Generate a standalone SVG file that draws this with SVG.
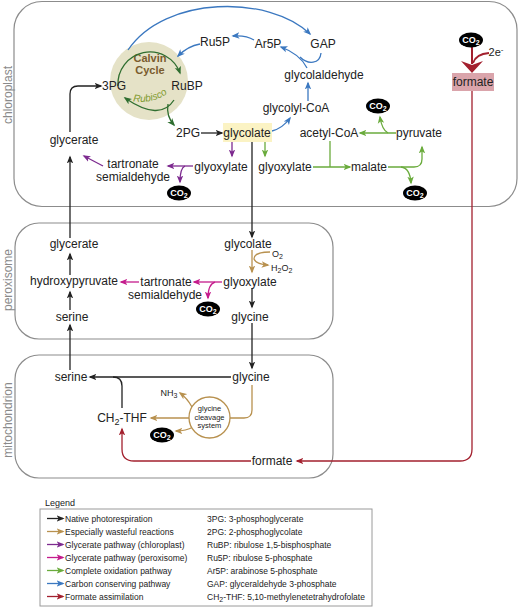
<svg xmlns="http://www.w3.org/2000/svg" width="520" height="607" viewBox="0 0 520 607">
<style>
.t{font-family:"Liberation Sans",Arial,sans-serif;font-size:12px;fill:#222;text-anchor:middle}
.s{font-size:9px}
.cmp{font-family:"Liberation Sans",Arial,sans-serif;font-size:12px;fill:#8a8a8a;text-anchor:middle}
.box{fill:none;stroke:#8c8c8c;stroke-width:1.2}
.a{fill:none;stroke-width:1.3}
.k{stroke:#222}.tn{stroke:#b8914f}.p{stroke:#7d2a8f}.m{stroke:#c41b8c}.g{stroke:#6aab3c}.b{stroke:#3b78c0}.r{stroke:#a3202e}.dg{stroke:#2f6e2f}
.co{fill:#000}
.cot{font-family:"Liberation Sans",Arial,sans-serif;font-size:9px;font-weight:bold;fill:#fff;text-anchor:middle}
.lg{font-family:"Liberation Sans",Arial,sans-serif;font-size:8.5px;fill:#222}
</style>
<defs>
<marker id="mk" viewBox="0 0 10 10" refX="8" refY="5" markerWidth="8" markerHeight="8" markerUnits="userSpaceOnUse" orient="auto"><path d="M0,1 L10,5 L0,9 L2.5,5 z" fill="#222"/></marker>
<marker id="mt" viewBox="0 0 10 10" refX="8" refY="5" markerWidth="8" markerHeight="8" markerUnits="userSpaceOnUse" orient="auto"><path d="M0,1 L10,5 L0,9 L2.5,5 z" fill="#b8914f"/></marker>
<marker id="mp" viewBox="0 0 10 10" refX="8" refY="5" markerWidth="8" markerHeight="8" markerUnits="userSpaceOnUse" orient="auto"><path d="M0,1 L10,5 L0,9 L2.5,5 z" fill="#7d2a8f"/></marker>
<marker id="mm" viewBox="0 0 10 10" refX="8" refY="5" markerWidth="8" markerHeight="8" markerUnits="userSpaceOnUse" orient="auto"><path d="M0,1 L10,5 L0,9 L2.5,5 z" fill="#c41b8c"/></marker>
<marker id="mg" viewBox="0 0 10 10" refX="8" refY="5" markerWidth="8" markerHeight="8" markerUnits="userSpaceOnUse" orient="auto"><path d="M0,1 L10,5 L0,9 L2.5,5 z" fill="#6aab3c"/></marker>
<marker id="mb" viewBox="0 0 10 10" refX="8" refY="5" markerWidth="8" markerHeight="8" markerUnits="userSpaceOnUse" orient="auto"><path d="M0,1 L10,5 L0,9 L2.5,5 z" fill="#3b78c0"/></marker>
<marker id="mr" viewBox="0 0 10 10" refX="8" refY="5" markerWidth="8" markerHeight="8" markerUnits="userSpaceOnUse" orient="auto"><path d="M0,1 L10,5 L0,9 L2.5,5 z" fill="#a3202e"/></marker>
<marker id="md" viewBox="0 0 10 10" refX="8" refY="5" markerWidth="8" markerHeight="8" markerUnits="userSpaceOnUse" orient="auto"><path d="M0,1 L10,5 L0,9 L2.5,5 z" fill="#2f6e2f"/></marker>
<path id="rubpath" d="M133,101 Q154,105 172,90"/>
</defs>
<rect width="520" height="607" fill="#fff"/>

<g id="compartments">
<rect class="box" x="14" y="1.5" width="503" height="205" rx="28"/>
<rect class="box" x="15" y="223" width="318" height="116" rx="24"/>
<rect class="box" x="15" y="355" width="318" height="123" rx="24"/>
<text class="cmp" transform="translate(12,95) rotate(-90)">chloroplast</text>
<text class="cmp" transform="translate(12,280) rotate(-90)">peroxisome</text>
<text class="cmp" transform="translate(12,420) rotate(-90)">mitochondrion</text>
</g>

<g id="calvin">
<circle cx="149" cy="81" r="39" fill="#e5e2c7"/>
<text class="t" x="150" y="62" style="font-weight:bold;font-size:11px;fill:#7a5c2e">Calvin</text>
<text class="t" x="150" y="74" style="font-weight:bold;font-size:11px;fill:#7a5c2e">Cycle</text>
<text style="font-family:'Liberation Sans',Arial,sans-serif;font-style:italic;font-size:10px;fill:#7f9a2e"><textPath href="#rubpath">Rubisco</textPath></text>
</g>

<g id="connectors">
<!-- black native -->
<path class="a k" d="M70,238 V157" marker-end="url(#mk)"/>
<path class="a k" d="M70,132 V94 Q70,86 78,86 H101" marker-end="url(#mk)"/>
<path class="a k" d="M201,133 H222" marker-end="url(#mk)"/>
<path class="a k" d="M252,142 V237" marker-end="url(#mk)"/>
<path class="a k" d="M70,370 V325" marker-end="url(#mk)"/>
<path class="a k" d="M70,310 V292" marker-end="url(#mk)"/>
<path class="a k" d="M70,275 V254" marker-end="url(#mk)"/>
<path class="a k" d="M252,288 V307" marker-end="url(#mk)"/>
<path class="a k" d="M252,323 V368" marker-end="url(#mk)"/>
<path class="a k" d="M231,377 H90" marker-end="url(#mk)"/>
<path class="a k" d="M122,408 V386 Q122,377 113,377"/>
<!-- dark green calvin -->
<path class="a dg" d="M118,86 A32,32 0 0 1 180,73" marker-end="url(#md)"/>
<path class="a dg" d="M174,100 Q160,122 125,98" marker-end="url(#md)"/>
<path class="a dg" d="M168,104 Q166,116 174,125" marker-end="url(#md)"/>
<!-- blue -->
<path class="a b" d="M128,50 C165,-5 270,-5 310,34" marker-end="url(#mb)"/>
<path class="a b" d="M254,40 Q246,35 233,36" marker-end="url(#mb)"/>
<path class="a b" d="M200,44 Q188,46 178,56" marker-end="url(#mb)"/>
<path class="a b" d="M307,68 Q300,54 281,47" marker-end="url(#mb)"/>
<path class="a b" d="M321,53 C320,64 308,65 300,57"/>
<path class="a b" d="M308,101 V83" marker-end="url(#mb)"/>
<path class="a b" d="M272,131 Q283,128 290,118" marker-end="url(#mb)"/>
<!-- purple -->
<path class="a p" d="M232,142 V156" marker-end="url(#mp)"/>
<path class="a p" d="M193,166 H168" marker-end="url(#mp)"/>
<path class="a p" d="M185,166 Q180,168 180,182" marker-end="url(#mp)"/>
<path class="a p" d="M103,166 L84,156" marker-end="url(#mp)"/>
<!-- green -->
<path class="a g" d="M265,142 V156" marker-end="url(#mg)"/>
<path class="a g" d="M313,167 H350" marker-end="url(#mg)"/>
<path class="a g" d="M330,141 V167"/>
<path class="a g" d="M396,133 H360" marker-end="url(#mg)"/>
<path class="a g" d="M388,133 Q382,130 380,117" marker-end="url(#mg)"/>
<path class="a g" d="M388,167 H414 Q422,167 422,159 V147" marker-end="url(#mg)"/>
<path class="a g" d="M401,167 Q410,168 411,183" marker-end="url(#mg)"/>
<!-- magenta -->
<path class="a m" d="M222,282 H194" marker-end="url(#mm)"/>
<path class="a m" d="M215,282 Q208,284 208,298" marker-end="url(#mm)"/>
<path class="a m" d="M139,282 H121" marker-end="url(#mm)"/>
<!-- tan -->
<path class="a tn" d="M252,250 V272" marker-end="url(#mt)"/>
<path class="a tn" d="M270,252 Q254,252 254,259 Q256,264 268,265" marker-end="url(#mt)"/>
<path class="a tn" d="M252,385 V410 Q252,418 244,418 H230"/>
<path class="a tn" d="M189,418 H151" marker-end="url(#mt)"/>
<path class="a tn" d="M192,407 Q187,398 180,393" marker-end="url(#mt)"/>
<path class="a tn" d="M193,427 Q186,431 176,431" marker-end="url(#mt)"/>
<!-- red formate -->
<path class="r" d="M472,47 V64" fill="none" stroke-width="2"/>
<path class="r" d="M489,53 Q476,54 473,63" fill="none" stroke-width="2"/>
<polygon points="461,61 472,65 483,61 472,73" fill="#a3202e"/>
<path class="a r" d="M472,91 V449 Q472,461 460,461 H297" marker-end="url(#mr)"/>
<path class="a r" d="M251,461 H134 Q122,461 122,449 V429" marker-end="url(#mr)"/>
</g>

<g id="n-ru5p"><text class="t" x="215" y="46">Ru5P</text></g>
<g id="n-ar5p"><text class="t" x="268" y="48">Ar5P</text></g>
<g id="n-gap"><text class="t" x="323" y="48">GAP</text></g>
<g id="n-glycolaldehyde"><text class="t" x="324" y="79">glycolaldehyde</text></g>
<g id="n-glycolylcoa"><text class="t" x="296" y="112">glycolyl-CoA</text></g>
<g id="n-3pg"><text class="t" x="114" y="90">3PG</text></g>
<g id="n-rubp"><text class="t" x="187" y="90">RuBP</text></g>
<g id="n-2pg"><text class="t" x="188" y="137">2PG</text></g>
<g id="n-glycolate-c"><rect x="223" y="123" width="49" height="19" fill="#fbf3c4"/><text class="t" x="247" y="137">glycolate</text></g>
<g id="n-glycerate-c"><text class="t" x="74" y="144">glycerate</text></g>
<g id="n-tartronate-c"><text class="t" x="133" y="168">tartronate</text><text class="t" x="133" y="181">semialdehyde</text></g>
<g id="n-glyoxylate-cp"><text class="t" x="221" y="171">glyoxylate</text></g>
<g id="n-glyoxylate-cg"><text class="t" x="285" y="171">glyoxylate</text></g>
<g id="n-acetylcoa"><text class="t" x="329" y="137">acetyl-CoA</text></g>
<g id="n-pyruvate"><text class="t" x="419" y="137">pyruvate</text></g>
<g id="n-malate"><text class="t" x="369" y="171">malate</text></g>
<g id="n-formate-c"><rect x="452" y="73" width="42" height="18" fill="#daa4ab"/><text class="t" x="473" y="86">formate</text></g>
<g id="n-2e"><text class="t" x="496" y="56" style="font-size:11px">2e<tspan dy="-4" font-size="8">-</tspan></text></g>

<g id="co2-1"><ellipse class="co" cx="179" cy="193" rx="12" ry="7.5"/><text class="cot" x="179" y="196">CO<tspan dy="2" font-size="7">2</tspan></text></g>
<g id="co2-2"><ellipse class="co" cx="378" cy="106" rx="12" ry="7.5"/><text class="cot" x="378" y="109">CO<tspan dy="2" font-size="7">2</tspan></text></g>
<g id="co2-3"><ellipse class="co" cx="415" cy="193" rx="12" ry="7.5"/><text class="cot" x="415" y="196">CO<tspan dy="2" font-size="7">2</tspan></text></g>
<g id="co2-4"><ellipse class="co" cx="471" cy="40" rx="12" ry="7.5"/><text class="cot" x="471" y="43">CO<tspan dy="2" font-size="7">2</tspan></text></g>
<g id="co2-5"><ellipse class="co" cx="208" cy="309" rx="12" ry="7.5"/><text class="cot" x="208" y="312">CO<tspan dy="2" font-size="7">2</tspan></text></g>
<g id="co2-6"><ellipse class="co" cx="162" cy="435" rx="12" ry="7.5"/><text class="cot" x="162" y="438">CO<tspan dy="2" font-size="7">2</tspan></text></g>

<g id="n-glycerate-p"><text class="t" x="74" y="248">glycerate</text></g>
<g id="n-hydroxypyruvate"><text class="t" x="74" y="285">hydroxypyruvate</text></g>
<g id="n-serine-p"><text class="t" x="72" y="321">serine</text></g>
<g id="n-glycolate-p"><text class="t" x="248" y="248">glycolate</text></g>
<g id="n-o2"><text class="t s" x="272" y="257" style="text-anchor:start">O<tspan dy="2" font-size="7">2</tspan></text></g>
<g id="n-h2o2"><text class="t s" x="271" y="271" style="text-anchor:start">H<tspan dy="2" font-size="7">2</tspan><tspan dy="-2">O</tspan><tspan dy="2" font-size="7">2</tspan></text></g>
<g id="n-glyoxylate-p"><text class="t" x="250" y="286">glyoxylate</text></g>
<g id="n-tartronate-p"><text class="t" x="166" y="286">tartronate</text><text class="t" x="165" y="299">semialdehyde</text></g>
<g id="n-glycine-p"><text class="t" x="250" y="321">glycine</text></g>

<g id="n-serine-m"><text class="t" x="71" y="381">serine</text></g>
<g id="n-glycine-m"><text class="t" x="251" y="381">glycine</text></g>
<g id="n-ch2thf"><text class="t" x="122" y="422">CH<tspan dy="3" font-size="9">2</tspan><tspan dy="-3">-THF</tspan></text></g>
<g id="n-nh3"><text class="t s" x="169" y="396">NH<tspan dy="2" font-size="7">3</tspan></text></g>
<g id="n-gcs"><circle cx="209.5" cy="417.5" r="20.5" fill="#fff" stroke="#b8914f" stroke-width="1.3"/>
<text class="t" x="209.5" y="411" style="font-size:7.5px">glycine</text>
<text class="t" x="209.5" y="419.5" style="font-size:7.5px">cleavage</text>
<text class="t" x="209.5" y="428" style="font-size:7.5px">system</text></g>
<g id="n-formate-m"><text class="t" x="272" y="465">formate</text></g>

<g id="legend">
<text class="lg" x="45" y="506" style="font-size:9px">Legend</text>
<rect x="40" y="509" width="332" height="97" fill="none" stroke="#9a9a9a" stroke-width="1"/>
<path class="a k" d="M47,518.5 H63" marker-end="url(#mk)"/>
<path class="a tn" d="M47,531.5 H63" marker-end="url(#mt)"/>
<path class="a p" d="M47,544.5 H63" marker-end="url(#mp)"/>
<path class="a m" d="M47,557.5 H63" marker-end="url(#mm)"/>
<path class="a g" d="M47,570.5 H63" marker-end="url(#mg)"/>
<path class="a b" d="M47,583.5 H63" marker-end="url(#mb)"/>
<path class="a r" d="M47,596.5 H63" marker-end="url(#mr)"/>
<text class="lg" x="65" y="521.5">Native photorespiration</text>
<text class="lg" x="65" y="534.5">Especially wasteful reactions</text>
<text class="lg" x="65" y="547.5">Glycerate pathway (chloroplast)</text>
<text class="lg" x="65" y="560.5">Glycerate pathway (peroxisome)</text>
<text class="lg" x="65" y="573.5">Complete oxidation pathway</text>
<text class="lg" x="65" y="586.5">Carbon conserving pathway</text>
<text class="lg" x="65" y="599.5">Formate assimilation</text>
<text class="lg" x="207" y="521.5">3PG: 3-phosphoglycerate</text>
<text class="lg" x="207" y="534.5">2PG: 2-phosphoglycolate</text>
<text class="lg" x="207" y="547.5">RuBP: ribulose 1,5-bisphosphate</text>
<text class="lg" x="207" y="560.5">Ru5P: ribulose 5-phosphate</text>
<text class="lg" x="207" y="573.5">Ar5P: arabinose 5-phosphate</text>
<text class="lg" x="207" y="586.5">GAP: glyceraldehyde 3-phosphate</text>
<text class="lg" x="207" y="599.5">CH<tspan dy="2" font-size="7">2</tspan><tspan dy="-2">-THF: 5,10-methylenetetrahydrofolate</tspan></text>
</g>
</svg>
